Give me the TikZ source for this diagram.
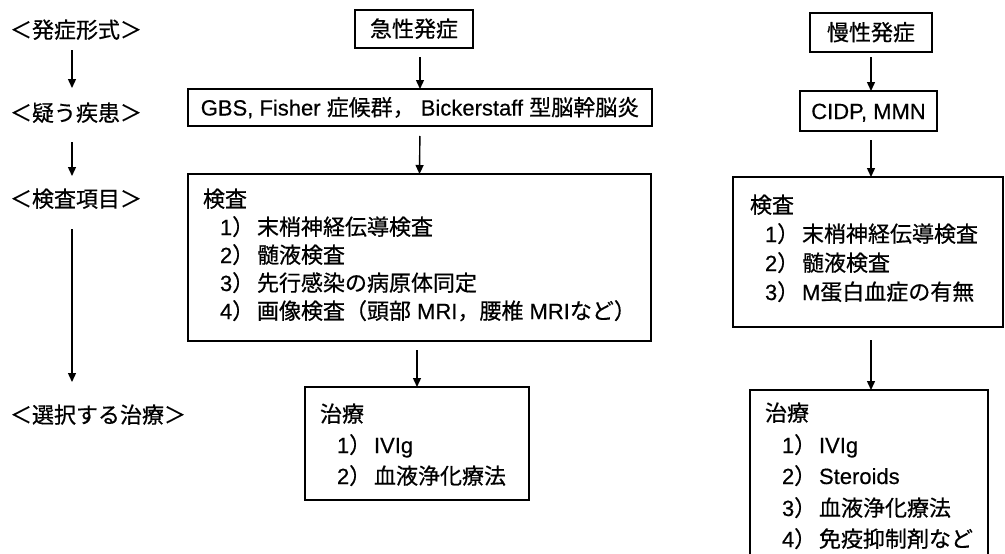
\documentclass[tikz,border=0pt]{standalone}
\usepackage{fontspec}
\setmainfont{Noto Sans CJK JP}[FakeBold=0.6]
\newfontfamily\lat{Liberation Sans}[FakeBold=0.4]
\usetikzlibrary{arrows.meta}
\newcommand{\itm}[2]{\makebox[37pt][l]{{\lat #1}）}#2}
\begin{document}
\begin{tikzpicture}[x=1pt,y=-1pt,
  every node/.style={font=\fontsize{22}{26}\selectfont, text height=19pt, text depth=3pt, inner sep=0pt, outer sep=0pt},
  box/.style={draw, line width=1.2pt, anchor=north west},
  arr/.style={line width=1.4pt, -{Triangle[length=9pt,width=8pt]}},
  txt/.style={anchor=west}]
\useasboundingbox (0,0) rectangle (1005,554);
\fill[white] (0,0) rectangle (1005,554);
\begin{scope}
\clip (0,0) rectangle (1005,554);
% left labels
\node[txt] (l1) at (10,30) {＜発症形式＞};
\node[txt] (l2) at (10,113) {＜疑う疾患＞};
\node[txt] (l3) at (10,199) {＜検査項目＞};
\node[txt] (l4) at (10,415) {＜選択する治療＞};
\coordinate (ax) at (72,0);
\draw[arr, shorten <=9pt, shorten >=14pt] (l1.south -| ax) -- (l2.north -| ax);
\draw[arr, shorten <=18pt, shorten >=12pt] (l2.south -| ax) -- (l3.north -| ax);
\draw[arr, shorten <=19pt, shorten >=22pt] (l3.south -| ax) -- (l4.north -| ax);
% acute column
\node[box, minimum width=118pt, minimum height=38pt] (acute) at (355,10) {急性発症};
\node[box, minimum width=464pt, minimum height=37pt] (gbs) at (188,89) {{\lat GBS, Fisher }症候群，{\lat\ Bickerstaff }型脳幹脳炎};
\node[box, minimum width=463pt, minimum height=167pt] (examL) at (188,174) {};
\node[box, minimum width=224pt, minimum height=113pt] (treatL) at (305,387) {};
\draw[arr, shorten <=9pt] (gbs.north |- acute.south) -- (gbs.north);
\draw[arr, shorten <=10pt] (gbs.south) -- (examL.north);
\draw[arr, shorten <=9pt] (treatL.north |- examL.south) -- (treatL.north);
\node[txt] (eL0) at (203,199) {検査};
\node[txt] (eL1) at (220,227) {\itm{1}{末梢神経伝導検査}};
\node[txt] (eL2) at (220,255) {\itm{2}{髄液検査}};
\node[txt] (eL3) at (220,283) {\itm{3}{先行感染の病原体同定}};
\node[txt] (eL4) at (220,311) {\itm{4}{画像検査（頭部{\lat\ MRI}，腰椎{\lat\ MRI}など）}};
\node[txt] (tL0) at (320,414) {治療};
\node[txt] (tL1) at (337,445) {\itm{1}{{\lat IVIg}}};
\node[txt] (tL2) at (337,476) {\itm{2}{血液浄化療法}};
% chronic column
\node[box, minimum width=122pt, minimum height=39pt] (chronic) at (810,13) {慢性発症};
\node[box, minimum width=137pt, minimum height=40pt] (cidp) at (800,91) {\lat CIDP, MMN};
\node[box, minimum width=270pt, minimum height=150pt] (examR) at (733,177) {};
\node[box, minimum width=238pt, minimum height=175pt] (treatR) at (750,390) {};
\draw[arr, shorten <=5pt] (chronic.south) -- (chronic.south |- cidp.north);
\draw[arr, shorten <=9pt] (chronic.south |- cidp.south) -- (chronic.south |- examR.north);
\draw[arr, shorten <=13pt] (chronic.south |- examR.south) -- (chronic.south |- treatR.north);
\node[txt] (eR0) at (750,205) {検査};
\node[txt] (eR1) at (765,234) {\itm{1}{末梢神経伝導検査}};
\node[txt] (eR2) at (765,263) {\itm{2}{髄液検査}};
\node[txt] (eR3) at (765,292) {\itm{3}{{\lat M}蛋白血症の有無}};
\node[txt] (tR0) at (765,413) {治療};
\node[txt] (tR1) at (782,445) {\itm{1}{{\lat IVIg}}};
\node[txt] (tR2) at (782,476) {\itm{2}{{\lat Steroids}}};
\node[txt] (tR3) at (782,508) {\itm{3}{血液浄化療法}};
\node[txt] (tR4) at (782,539) {\itm{4}{免疫抑制剤など}};
\end{scope}
\end{tikzpicture}
\end{document}
